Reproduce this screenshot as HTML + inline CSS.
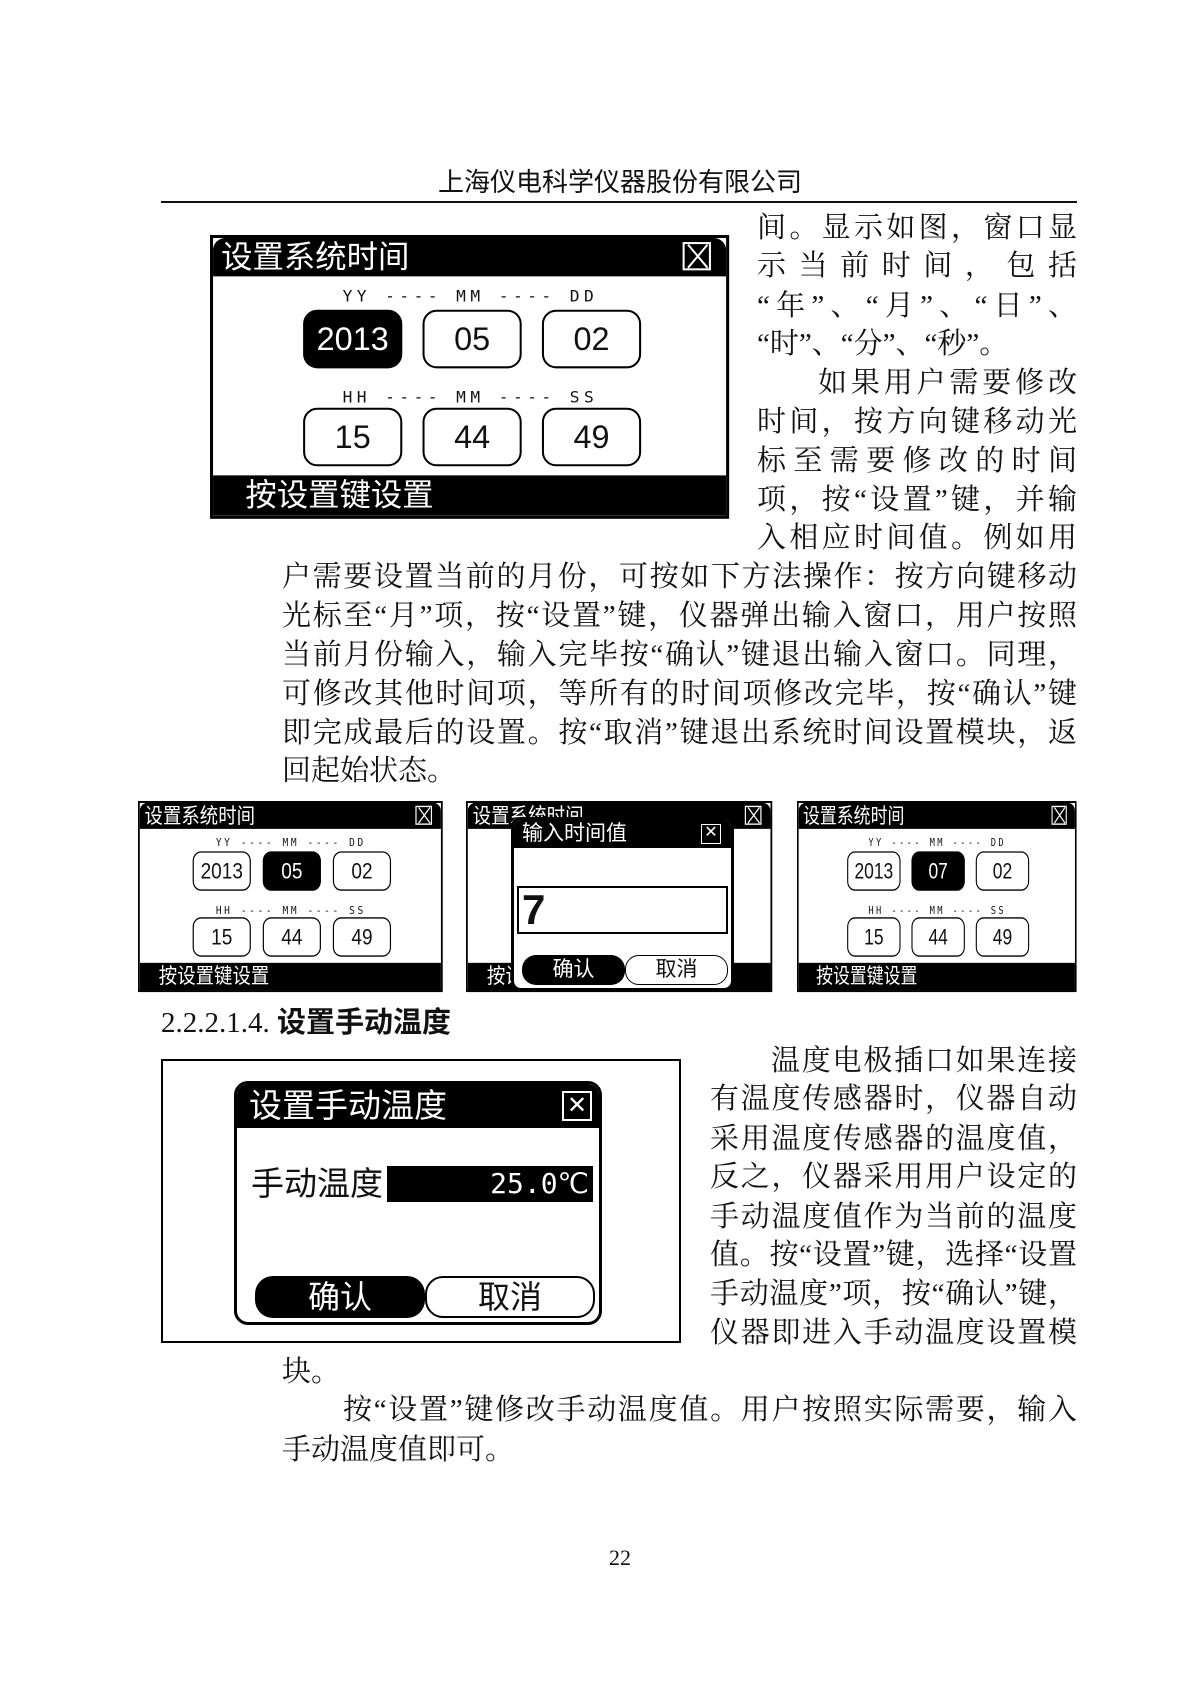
<!DOCTYPE html>
<html><head><meta charset="utf-8"><style>
*{margin:0;padding:0;box-sizing:border-box}
body{width:1200px;height:1696px;background:#fff;position:relative;overflow:hidden;font-family:"Liberation Serif","Noto Serif CJK SC",serif;color:#111}
.a{position:absolute}
.t{position:absolute;font-size:29px;line-height:38px;white-space:nowrap}
.j{text-align:justify;text-align-last:justify;white-space:normal}
.s{font-family:"Liberation Sans","Noto Sans CJK SC",sans-serif}
.scr{position:absolute;width:513px;height:281px;border:3px solid #000;background:#fff;transform-origin:0 0;overflow:hidden}
.tb{position:absolute;left:0;top:0;width:100%;height:38px;background:#000;border-radius:12px 12px 0 0;color:#fff;font-size:31px;line-height:38px;padding-left:8px}
.xb{position:absolute;width:28px;height:28px;border:2px solid #fff;background:#000}
.xb:before,.xb:after{content:"";position:absolute;left:50%;top:-3px;width:2px;height:30px;background:#fff;transform:rotate(40deg)}
.xb:after{transform:rotate(-40deg)}
.bb{position:absolute;left:0;bottom:0;width:100%;height:40px;background:#000;color:#fff;font-size:31px;line-height:40px;padding-left:32px}
.lb{position:absolute;font-size:16px;line-height:16px;white-space:pre;font-family:"DejaVu Sans Mono",monospace;letter-spacing:4.4px}
.bx{position:absolute;width:98px;height:58px;border:2px solid #000;border-radius:14px;text-align:center;font-size:32px;line-height:54px;font-family:"Liberation Sans Narrow","Liberation Sans",sans-serif}
.bx.on{background:#000;color:#fff}
</style></head><body>

<div class="a s" style="left:0;width:1240px;top:165px;text-align:center;font-size:26px;line-height:34px">上海仪电科学仪器股份有限公司</div>
<div class="a" style="left:161px;top:201px;width:916px;height:2px;background:#111"></div>

<!-- screen 1 -->
<div class="scr s" style="left:210px;top:235px;transform:scale(1.012,1.01)">
 <div class="tb">设置系统时间</div><div class="xb" style="left:464px;top:4px"></div>
 <div class="lb" style="left:128px;top:50px">YY ---- MM ---- DD</div>
 <div class="bx on" style="left:89px;top:71px">2013</div>
 <div class="bx" style="left:207px;top:71px">05</div>
 <div class="bx" style="left:325px;top:71px">02</div>
 <div class="lb" style="left:128px;top:150px">HH ---- MM ---- SS</div>
 <div class="bx" style="left:89px;top:168px">15</div>
 <div class="bx" style="left:207px;top:168px">44</div>
 <div class="bx" style="left:325px;top:168px">49</div>
 <div class="bb">按设置键设置</div>
</div>

<div class="t j" style="left:757px;width:320px;top:209px">间。显示如图，窗口显</div>
<div class="t j" style="left:757px;width:320px;top:247px">示 当 前 时 间 ， 包 括</div>
<div class="t j" style="left:757px;width:320px;top:287px">“年”、“月”、“日”、</div>
<div class="t" style="left:757px;top:325px">“时”、“分”、“秒”。</div>
<div class="t j" style="left:818px;width:259px;top:364px">如果用户需要修改</div>
<div class="t j" style="left:757px;width:320px;top:403px">时间，按方向键移动光</div>
<div class="t j" style="left:757px;width:320px;top:442px">标至需要修改的时间</div>
<div class="t j" style="left:757px;width:320px;top:481px">项，按“设置”键，并输</div>
<div class="t j" style="left:757px;width:320px;top:519px">入相应时间值。例如用</div>
<div class="t j" style="left:282px;width:795px;top:558px">户需要设置当前的月份，可按如下方法操作：按方向键移动</div>
<div class="t j" style="left:282px;width:795px;top:597px">光标至“月”项，按“设置”键，仪器弹出输入窗口，用户按照</div>
<div class="t j" style="left:282px;width:795px;top:636px">当前月份输入，输入完毕按“确认”键退出输入窗口。同理，</div>
<div class="t j" style="left:282px;width:795px;top:675px">可修改其他时间项，等所有的时间项修改完毕，按“确认”键</div>
<div class="t j" style="left:282px;width:795px;top:714px">即完成最后的设置。按“取消”键退出系统时间设置模块，返</div>
<div class="t" style="left:282px;top:752px">回起始状态。</div>

<!-- small screens -->
<div class="scr s" style="left:138px;top:801px;transform:scale(0.594,0.68)">
 <div class="tb">设置系统时间</div><div class="xb" style="left:464px;top:4px"></div>
 <div class="lb" style="left:128px;top:50px">YY ---- MM ---- DD</div>
 <div class="bx" style="left:89px;top:71px">2013</div>
 <div class="bx on" style="left:207px;top:71px">05</div>
 <div class="bx" style="left:325px;top:71px">02</div>
 <div class="lb" style="left:128px;top:150px">HH ---- MM ---- SS</div>
 <div class="bx" style="left:89px;top:168px">15</div>
 <div class="bx" style="left:207px;top:168px">44</div>
 <div class="bx" style="left:325px;top:168px">49</div>
 <div class="bb">按设置键设置</div>
</div>

<div class="scr s" style="left:466px;top:801px;transform:scale(0.597,0.68)">
 <div class="tb">设置系统时间</div><div class="xb" style="left:464px;top:4px"></div>
 <div class="bb">按设置键设置</div>
</div>
<div class="a s" style="left:511px;top:817px;width:223px;height:174px;border:3px solid #000;border-radius:10px;background:#fff;overflow:hidden">
 <div class="a" style="left:0;top:0;width:100%;height:28px;background:#000;color:#fff;font-size:21px;line-height:28px;padding-left:8px">输入时间值</div>
 <div class="a" style="left:187px;top:4px;width:20px;height:20px;border:1.5px solid #fff;color:#fff;font-size:16px;line-height:16px;text-align:center">✕</div>
 <div class="a" style="left:3px;top:66px;width:211px;height:48px;border:2px solid #000;font:bold 42px/44px 'Liberation Sans',sans-serif;padding-left:3px">7</div>
 <div class="a" style="left:8px;top:135px;width:103px;height:30px;background:#000;color:#fff;border-radius:14px;text-align:center;font-size:21px;line-height:30px">确认</div>
 <div class="a" style="left:111px;top:135px;width:103px;height:30px;border:1.5px solid #000;border-radius:14px;text-align:center;font-size:21px;line-height:27px">取消</div>
</div>

<div class="scr s" style="left:797px;top:801px;transform:scale(0.545,0.68)">
 <div class="tb">设置系统时间</div><div class="xb" style="left:464px;top:4px"></div>
 <div class="lb" style="left:128px;top:50px">YY ---- MM ---- DD</div>
 <div class="bx" style="left:89px;top:71px">2013</div>
 <div class="bx on" style="left:207px;top:71px">07</div>
 <div class="bx" style="left:325px;top:71px">02</div>
 <div class="lb" style="left:128px;top:150px">HH ---- MM ---- SS</div>
 <div class="bx" style="left:89px;top:168px">15</div>
 <div class="bx" style="left:207px;top:168px">44</div>
 <div class="bx" style="left:325px;top:168px">49</div>
 <div class="bb">按设置键设置</div>
</div>

<div class="a" style="left:161px;top:1001px;font-size:29px;line-height:38px;font-family:'Liberation Serif','Noto Sans CJK SC',serif">2.2.2.1.4. <b style="font-family:'Noto Sans CJK SC',sans-serif">设置手动温度</b></div>

<!-- big screen -->
<div class="a" style="left:161px;top:1059px;width:520px;height:284px;border:2px solid #000;background:#fff"></div>
<div class="a s" style="left:234px;top:1081px;width:368px;height:244px;border:3px solid #000;border-radius:14px;overflow:hidden;background:#fff">
 <div class="a" style="left:0;top:0;width:100%;height:44px;background:#000;color:#fff;font-size:33px;line-height:44px;padding-left:12px">设置手动温度</div>
 <div class="a" style="left:325px;top:7px;width:30px;height:30px;border:2px solid #fff;color:#fff;font-size:24px;line-height:26px;text-align:center">✕</div>
 <div class="a" style="left:14px;top:80px;font-size:33px;line-height:40px">手动温度</div>
 <div class="a" style="left:150px;top:82px;width:206px;height:36px;background:#000;color:#fff;font-size:28px;line-height:36px;text-align:right;padding-right:4px;font-family:'DejaVu Sans Mono',monospace">25.0℃</div>
 <div class="a" style="left:18px;top:192px;width:170px;height:42px;background:#000;color:#fff;border-radius:18px;text-align:center;font-size:32px;line-height:42px">确认</div>
 <div class="a" style="left:188px;top:192px;width:170px;height:42px;border:2px solid #000;border-radius:18px;text-align:center;font-size:32px;line-height:38px">取消</div>
</div>

<div class="t j" style="left:771px;width:306px;top:1042px">温度电极插口如果连接</div>
<div class="t j" style="left:710px;width:367px;top:1080px">有温度传感器时，仪器自动</div>
<div class="t j" style="left:710px;width:367px;top:1120px">采用温度传感器的温度值，</div>
<div class="t j" style="left:710px;width:367px;top:1158px">反之，仪器采用用户设定的</div>
<div class="t j" style="left:710px;width:367px;top:1198px">手动温度值作为当前的温度</div>
<div class="t j" style="left:710px;width:367px;top:1236px">值。按“设置”键，选择“设置</div>
<div class="t j" style="left:710px;width:367px;top:1275px">手动温度”项，按“确认”键，</div>
<div class="t j" style="left:710px;width:367px;top:1314px">仪器即进入手动温度设置模</div>
<div class="t" style="left:282px;top:1353px">块。</div>
<div class="t j" style="left:343px;width:734px;top:1391px">按“设置”键修改手动温度值。用户按照实际需要，输入</div>
<div class="t" style="left:282px;top:1431px">手动温度值即可。</div>

<div class="a" style="left:0;width:1240px;top:1543px;text-align:center;font-size:22px;line-height:30px">22</div>
</body></html>
